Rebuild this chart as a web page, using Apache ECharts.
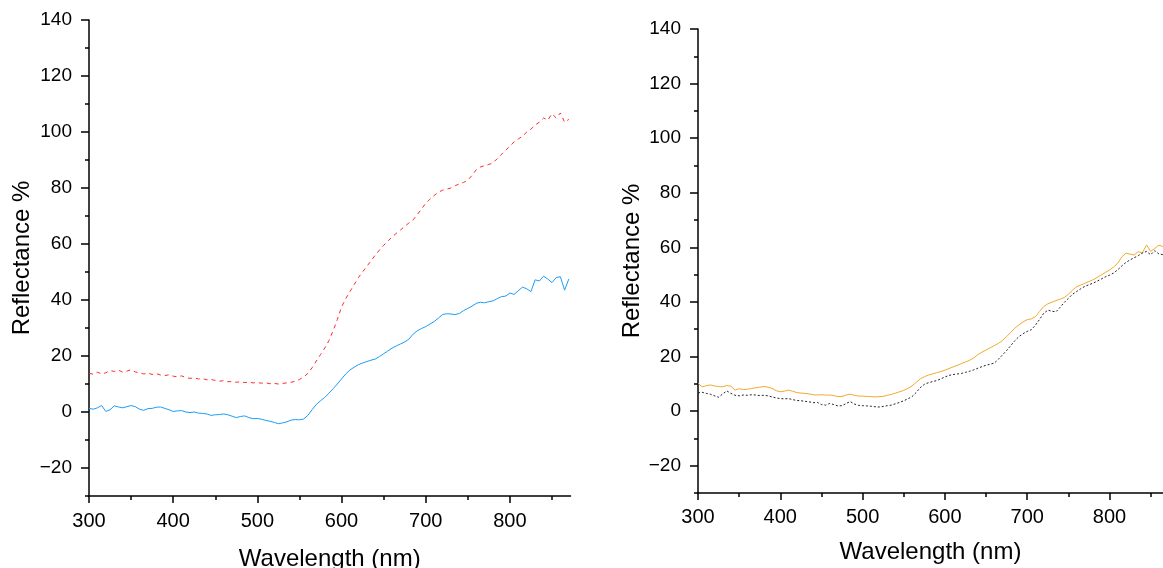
<!DOCTYPE html>
<html>
<head>
<meta charset="utf-8">
<script src="https://cdn.jsdelivr.net/npm/echarts@6/dist/echarts.min.js"></script>
<style>
html,body{margin:0;padding:0;background:#fff;}
#chart{width:1163px;height:568px;}
</style>
</head>
<body>
<div id="chart"></div>
<script>
// Wavelengths (nm), 5 nm step
const wavelengths = [];
for (let w = 300; w <= 870; w += 5) wavelengths.push(w);

// Left panel
const redDashed = [13.8,13.5,14.2,13.6,14.0,14.8,14.5,15.0,14.2,14.6,15.1,14.3,14.0,13.6,13.9,13.4,13.7,13.2,13.0,13.3,
12.8,12.6,12.9,12.3,12.0,12.2,11.8,11.9,11.5,11.6,11.3,11.0,11.2,10.8,10.9,10.6,10.8,10.5,10.7,10.4,
10.5,10.3,10.4,10.1,10.2,10.0,10.2,10.4,10.6,11.0,11.6,12.5,13.8,15.8,18.2,20.5,22.8,25.5,29.0,33.0,
37.5,40.5,43.0,45.5,48.0,50.0,52.0,54.0,56.0,57.8,59.5,61.0,62.5,63.8,65.0,66.3,67.5,68.6,70.5,72.5,
74.5,76.0,77.3,78.5,79.2,79.6,80.0,80.8,81.5,82.0,82.8,84.5,86.5,87.5,88.0,88.4,89.0,90.5,92.0,93.5,
95.0,96.5,97.5,98.5,100.0,101.0,102.5,103.5,105.0,104.2,106.5,105.0,106.8,103.5,104.5];
const blueSolid = [1.3,1.0,1.5,2.3,0.2,0.8,2.2,1.8,1.5,1.9,2.3,1.9,1.0,0.6,1.2,1.3,1.7,1.8,1.3,0.8,
0.2,0.4,0.5,0.0,-0.2,0.0,-0.4,-0.5,-0.7,-1.2,-1.0,-0.9,-0.7,-1.0,-1.5,-2.0,-1.6,-1.4,-2.0,-2.4,
-2.3,-2.6,-3.0,-3.3,-3.7,-4.2,-3.9,-3.5,-2.9,-2.7,-2.8,-2.5,-1.2,0.8,2.7,4.0,5.2,6.7,8.3,10.0,
11.8,13.6,15.0,16.0,16.9,17.5,18.0,18.5,18.9,19.8,20.8,21.8,22.8,23.6,24.3,25.0,26.0,27.8,29.0,29.8,
30.5,31.4,32.3,33.5,34.8,35.1,35.0,34.8,35.2,36.2,37.0,37.8,38.8,39.2,39.0,39.4,39.7,40.5,41.2,41.4,
42.5,42.0,43.3,44.6,44.0,43.0,47.2,46.8,48.5,47.5,46.2,48.0,48.3,43.5,47.5];

// Right panel
const orangeSolid = [10.2,8.9,9.3,9.6,9.2,9.0,8.9,9.4,9.1,7.7,8.2,7.9,8.0,8.3,8.5,8.8,9.0,8.8,8.3,7.5,
7.1,7.3,7.7,7.3,6.8,6.6,6.5,6.3,6.0,5.9,6.0,5.9,5.9,5.7,5.3,5.4,5.9,6.2,5.8,5.5,
5.5,5.4,5.3,5.2,5.3,5.4,5.8,6.1,6.6,7.1,7.6,8.3,9.2,10.5,11.8,12.6,13.2,13.6,14.1,14.5,
15.0,15.6,16.2,16.8,17.4,18.0,18.6,19.5,20.7,21.6,22.4,23.2,24.0,24.8,25.9,27.3,28.9,30.4,31.6,32.7,
33.5,33.8,34.6,36.5,38.3,39.3,39.9,40.5,41.0,41.6,42.8,44.3,45.6,46.2,46.8,47.5,48.1,49.0,49.9,50.8,
51.7,52.8,54.2,56.5,57.9,57.5,57.2,58.4,58.0,60.9,58.5,59.6,60.8,60.3,60.0];
const blackDotted = [6.7,6.9,6.5,6.2,5.6,5.1,6.3,7.4,6.5,5.8,5.6,5.9,5.8,6.0,5.9,5.7,5.8,5.6,5.2,4.8,
4.6,4.5,4.6,4.2,3.9,3.8,3.6,3.4,3.1,3.2,2.4,2.2,2.8,2.4,1.9,2.0,2.8,3.5,2.6,2.1,
2.0,1.9,1.8,1.6,1.5,1.7,2.0,2.2,2.7,3.2,3.8,4.5,5.3,6.8,8.6,9.8,10.4,10.8,11.2,11.8,
12.5,13.1,13.4,13.6,13.8,14.2,14.6,15.1,15.7,16.3,16.8,17.2,17.6,19.0,20.6,22.2,24.0,25.8,27.3,28.4,
29.2,29.8,31.5,33.6,35.8,37.0,36.6,36.4,38.0,39.8,41.3,42.8,43.8,44.8,45.7,46.3,46.9,47.6,48.4,49.2,
49.8,50.6,51.8,53.2,54.5,55.4,56.2,57.0,57.9,58.5,57.3,58.8,57.6,57.3,57.5];

const yMajorTicks = [-20,0,20,40,60,80,100,120,140];
const yMinorTicks = [-30,-10,10,30,50,70,90,110,130];
const xMajorTicks = [300,400,500,600,700,800];
const xMinorTicks = [350,450,550,650,750,850];

function pairs(ys){ return wavelengths.map((w,i)=>[w, ys[i]]); }
function minusFmt(v){ return String(v).replace('-', '\u2212'); }

const FONT = 'Liberation Sans, Arial, sans-serif';
const lineStyleAxis = {color:'#000', width:1.5};

function xMain(grid, max, margin, nameGap){
  return {type:'value', gridIndex:grid, min:300, max:max, position:'bottom',
    axisLine:{show:true, onZero:false, lineStyle:lineStyleAxis},
    axisTick:{show:true, length:7, customValues:xMajorTicks, lineStyle:lineStyleAxis},
    axisLabel:{customValues:xMajorTicks, margin:margin, fontSize:20, color:'#000', fontFamily:FONT},
    splitLine:{show:false},
    name:'Wavelength (nm)', nameLocation:'middle', nameGap:nameGap,
    nameTextStyle:{fontSize:24, color:'#000', fontFamily:FONT}};
}
function xMinor(grid, max){
  return {type:'value', gridIndex:grid, min:300, max:max, position:'bottom',
    axisLine:{show:false, onZero:false},
    axisTick:{show:true, length:4, customValues:xMinorTicks, lineStyle:lineStyleAxis},
    axisLabel:{show:false}, splitLine:{show:false}};
}
function yMain(grid, margin, nameGap){
  return {type:'value', gridIndex:grid, min:-30, max:140, position:'left',
    axisLine:{show:true, onZero:false, lineStyle:lineStyleAxis},
    axisTick:{show:true, length:8, customValues:yMajorTicks, lineStyle:lineStyleAxis},
    axisLabel:{customValues:yMajorTicks, margin:margin, fontSize:19, color:'#000', fontFamily:FONT, formatter:minusFmt},
    splitLine:{show:false},
    name:'Reflectance %', nameLocation:'middle', nameGap:nameGap, nameRotate:90,
    nameTextStyle:{fontSize:24, color:'#000', fontFamily:FONT}};
}
function yMinor(grid){
  return {type:'value', gridIndex:grid, min:-30, max:140, position:'left',
    axisLine:{show:false, onZero:false},
    axisTick:{show:true, length:4, customValues:yMinorTicks, lineStyle:lineStyleAxis},
    axisLabel:{show:false}, splitLine:{show:false}};
}

const chart = echarts.init(document.getElementById('chart'), null, {renderer:'canvas'});
chart.setOption({
  animation:false,
  backgroundColor:'#fff',
  grid:[
    {left:89, top:20, width:481.5, height:476, outerBoundsMode:'none', containLabel:false},
    {left:698, top:29, width:465, height:464, outerBoundsMode:'none', containLabel:false}
  ],
  xAxis:[xMain(0,872,15,51), xMinor(0,872), xMain(1,865,14,47), xMinor(1,865)],
  yAxis:[yMain(0,17,55), yMinor(0), yMain(1,17,52), yMinor(1)],
  series:[
    {type:'line', xAxisIndex:0, yAxisIndex:0, data:pairs(redDashed), showSymbol:false,
      lineStyle:{color:'#ff2a2a', width:1, type:[4,4]}},
    {type:'line', xAxisIndex:0, yAxisIndex:0, data:pairs(blueSolid), showSymbol:false,
      lineStyle:{color:'#1e9cf5', width:1}},
    {type:'line', xAxisIndex:2, yAxisIndex:2, data:pairs(orangeSolid), showSymbol:false,
      lineStyle:{color:'#f0aa2a', width:1}},
    {type:'line', xAxisIndex:2, yAxisIndex:2, data:pairs(blackDotted), showSymbol:false,
      lineStyle:{color:'#222', width:1, type:[2,2]}}
  ]
});
</script>
</body>
</html>
